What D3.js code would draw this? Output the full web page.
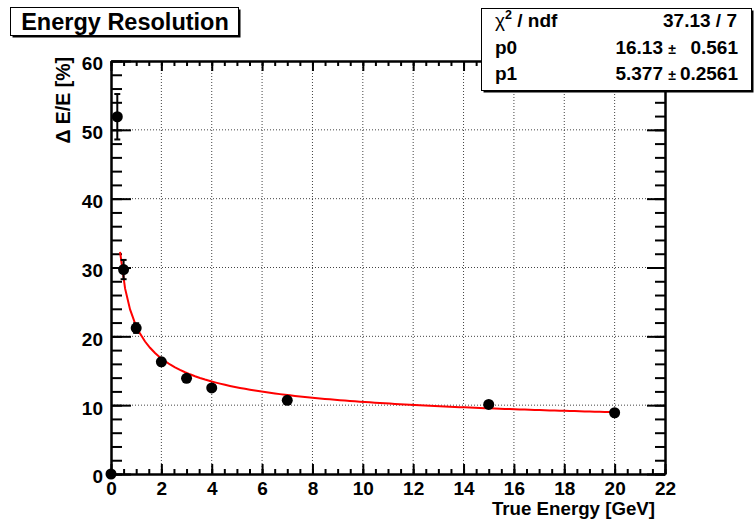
<!DOCTYPE html>
<html>
<head>
<meta charset="utf-8">
<script src="https://cdn.jsdelivr.net/npm/d3@7"></script>
<style>
  body { margin: 0; background: #fff; }
  text { font-family: "Liberation Sans", Arial, sans-serif; font-weight: bold; }
</style>
</head>
<body>
<svg id="chart" width="755" height="519"></svg>
<script>
// measured points (true energy in GeV, resolution in %)
const energies = [0, 0.25, 0.5, 1, 2, 3, 4, 7, 15, 20];
const resolution = [0, 51.9, 29.7, 21.2, 16.3, 13.9, 12.5, 10.7, 10.1, 8.9];
const resErrors = [0, 3.3, 1.4, 0.7, 0.5, 0.4, 0.4, 0.3, 0.3, 0.3];

const xTicks = [0, 2, 4, 6, 8, 10, 12, 14, 16, 18, 20, 22];
const yTicks = [0, 10, 20, 30, 40, 50, 60];

// fit result p0/sqrt(E) + p1
const fitParams = { p0: 16.13, p0err: 0.561, p1: 5.377, p1err: 0.2561, chi2: 37.13, ndf: 7 };
const fitRange = [0.36, 20];

const svg = d3.select("#chart");
const frame = { left: 111, right: 665, top: 61, bottom: 474 };

const x = d3.scaleLinear().domain([0, 22]).range([frame.left, frame.right]);
const y = d3.scaleLinear().domain([0, 60]).range([frame.bottom, frame.top]);

// grid
const grid = svg.append("g").attr("stroke", "#444").attr("stroke-width", 1).attr("stroke-dasharray", "1,2");
grid.selectAll(".gx").data(xTicks.slice(1, -1)).join("line")
    .attr("x1", d => x(d)).attr("x2", d => x(d))
    .attr("y1", frame.top).attr("y2", frame.bottom);
grid.selectAll(".gy").data(yTicks.slice(1, -1)).join("line")
    .attr("x1", frame.left).attr("x2", frame.right)
    .attr("y1", d => y(d)).attr("y2", d => y(d));

// axes, ROOT style: ticks pointing inside, on all four sides
function styleAxis(g) {
    g.selectAll("path, line").attr("stroke", "#000").attr("stroke-width", 2);
    g.selectAll("text").attr("font-size", 19).attr("fill", "#000");
}
const xMinor = x.ticks(44), yMinor = y.ticks(30);

svg.append("g").attr("transform", `translate(0,${frame.bottom})`)
    .call(d3.axisBottom(x).tickValues(xMinor).tickSizeInner(-5).tickSizeOuter(0).tickFormat(""))
    .call(styleAxis);
svg.append("g").attr("transform", `translate(0,${frame.bottom})`)
    .call(d3.axisBottom(x).tickValues(xTicks).tickSizeInner(-10).tickSizeOuter(0).tickPadding(8).tickFormat(d3.format("d")))
    .call(styleAxis);
svg.append("g").attr("transform", `translate(0,${frame.top})`)
    .call(d3.axisTop(x).tickValues(xMinor).tickSizeInner(-5).tickSizeOuter(0).tickFormat(""))
    .call(styleAxis);
svg.append("g").attr("transform", `translate(0,${frame.top})`)
    .call(d3.axisTop(x).tickValues(xTicks).tickSizeInner(-10).tickSizeOuter(0).tickFormat(""))
    .call(styleAxis);

svg.append("g").attr("transform", `translate(${frame.left},0)`)
    .call(d3.axisLeft(y).tickValues(yMinor).tickSizeInner(-11).tickSizeOuter(0).tickFormat(""))
    .call(styleAxis);
svg.append("g").attr("transform", `translate(${frame.left},0)`)
    .call(d3.axisLeft(y).tickValues(yTicks).tickSizeInner(-20).tickSizeOuter(0).tickPadding(8).tickFormat(d3.format("d")))
    .call(styleAxis)
    .call(g => g.selectAll("text").attr("dy", "0.47em"));
svg.append("g").attr("transform", `translate(${frame.right},0)`)
    .call(d3.axisRight(y).tickValues(yMinor).tickSizeInner(-10).tickSizeOuter(0).tickFormat(""))
    .call(styleAxis);
svg.append("g").attr("transform", `translate(${frame.right},0)`)
    .call(d3.axisRight(y).tickValues(yTicks).tickSizeInner(-18).tickSizeOuter(0).tickFormat(""))
    .call(styleAxis);

// axis titles
svg.append("text").attr("x", 655).attr("y", 515).attr("text-anchor", "end")
    .attr("font-size", 18.7).text("True Energy [GeV]");
svg.append("text").attr("transform", "translate(70,57) rotate(-90)").attr("text-anchor", "end")
    .attr("font-size", 19.5).text("\u0394 E/E [%]");

// fit curve
const fitX = d3.range(100).map(i => fitRange[0] + (fitRange[1] - fitRange[0]) * i / 99);
const fitLine = d3.line().x(d => x(d)).y(d => y(fitParams.p0 / Math.sqrt(d) + fitParams.p1));
svg.append("path").datum(fitX).attr("d", fitLine)
    .attr("fill", "none").attr("stroke", "#ff0000").attr("stroke-width", 2);

// error bars and markers
const pts = energies.map((e, i) => ({ e, v: resolution[i], err: resErrors[i] }));
const eb = svg.append("g").attr("stroke", "#000").attr("stroke-width", 2);
eb.selectAll("line.v").data(pts.filter(d => d.err > 0)).join("line")
    .attr("x1", d => x(d.e)).attr("x2", d => x(d.e))
    .attr("y1", d => y(d.v - d.err)).attr("y2", d => y(d.v + d.err));
eb.selectAll("line.t").data(pts.filter(d => d.err > 0)).join("line")
    .attr("x1", d => x(d.e) - 3).attr("x2", d => x(d.e) + 3)
    .attr("y1", d => y(d.v + d.err)).attr("y2", d => y(d.v + d.err));
eb.selectAll("line.b").data(pts.filter(d => d.err > 0)).join("line")
    .attr("x1", d => x(d.e) - 3).attr("x2", d => x(d.e) + 3)
    .attr("y1", d => y(d.v - d.err)).attr("y2", d => y(d.v - d.err));
svg.append("g").selectAll("circle").data(pts).join("circle")
    .attr("cx", d => x(d.e)).attr("cy", d => y(d.v)).attr("r", 5.5).attr("fill", "#000");

// title box
function pave(x0, y0, w, h) {
    svg.append("rect").attr("x", x0 + 2).attr("y", y0 + 2).attr("width", w).attr("height", h).attr("fill", "#000");
    svg.append("rect").attr("x", x0).attr("y", y0).attr("width", w).attr("height", h)
        .attr("fill", "#fff").attr("stroke", "#000").attr("stroke-width", 1);
}
pave(10.5, 7.5, 228, 28);
svg.append("text").attr("x", 125).attr("y", 30).attr("text-anchor", "middle")
    .attr("font-size", 23.5).text("Energy Resolution");

// stats box
pave(481.5, 8.5, 270, 82);
const stats = svg.append("g").attr("font-size", 19);
const chiLabel = stats.append("text").attr("x", 495).attr("y", 27);
chiLabel.append("tspan").attr("font-weight", "normal").text("\u03c7");
chiLabel.append("tspan").attr("font-size", 12.5).attr("dy", -8).text("2");
chiLabel.append("tspan").attr("dy", 8).text(" / ndf");
stats.append("text").attr("x", 737).attr("y", 27).attr("text-anchor", "end")
    .text(`${fitParams.chi2} / ${fitParams.ndf}`);
const rows = [["p0", fitParams.p0, fitParams.p0err, 54], ["p1", fitParams.p1, fitParams.p1err, 80]];
rows.forEach(([name, val, err, yy]) => {
    stats.append("text").attr("x", 495).attr("y", yy).text(name);
    stats.append("text").attr("x", 663).attr("y", yy).attr("text-anchor", "end").text(val);
    stats.append("text").attr("x", 672).attr("y", yy).attr("text-anchor", "middle")
        .attr("font-weight", "normal").attr("font-size", 14).text("\u00b1");
    stats.append("text").attr("x", 738).attr("y", yy).attr("text-anchor", "end").text(err);
});
</script>
</body>
</html>
